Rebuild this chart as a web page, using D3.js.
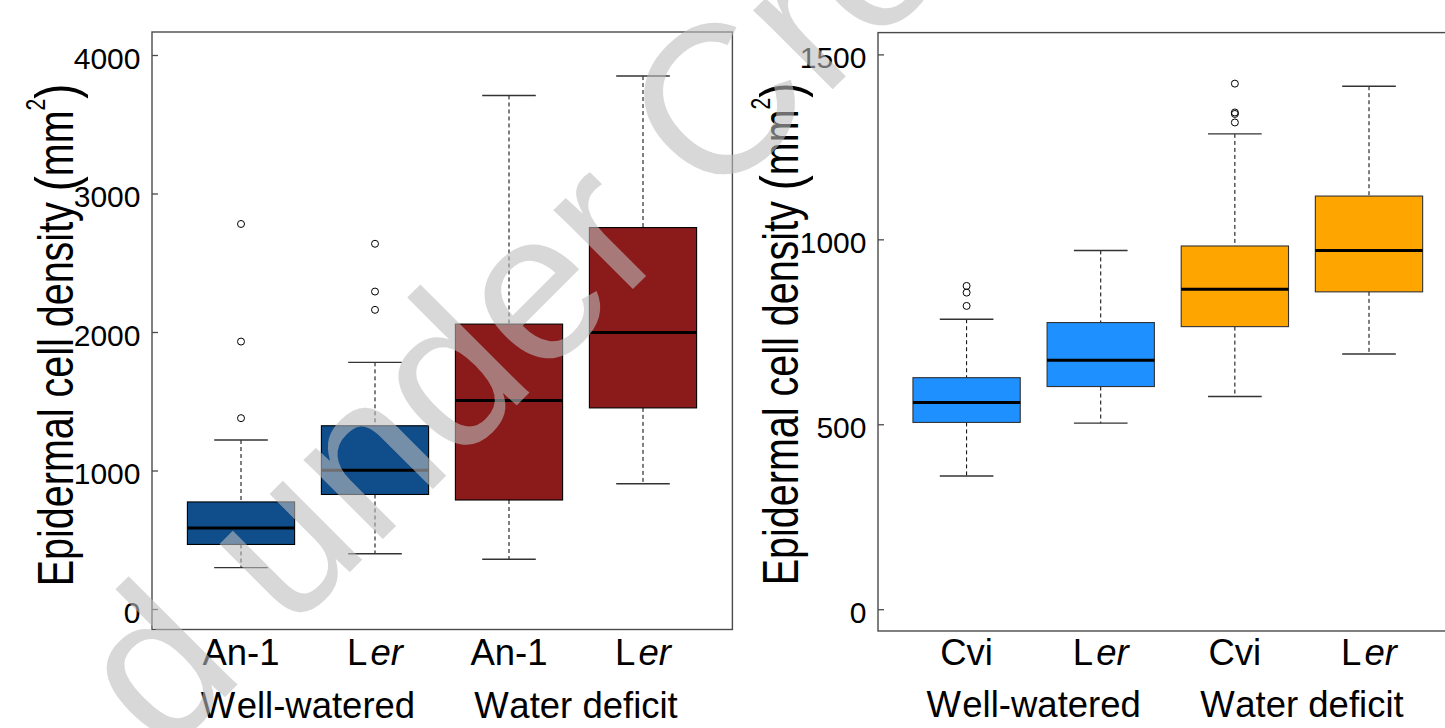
<!DOCTYPE html>
<html><head><meta charset="utf-8">
<script src="https://cdn.jsdelivr.net/npm/d3@7"></script>
<style>body{margin:0;background:#fff}svg{display:block}text{font-family:"Liberation Sans",Arial,sans-serif;fill:#000}</style>
</head><body><svg id="c" width="1445" height="728"></svg>
<script>
// ---------- data ----------
const leftCategories = ["An-1", "Ler", "An-1", "Ler"];
const rightCategories = ["Cvi", "Ler", "Cvi", "Ler"];
const groupLabels = ["Well-watered", "Water deficit"];
const leftTicks = [0, 1000, 2000, 3000, 4000];
const rightTicks = [0, 500, 1000, 1500];

const leftLow  = [299, 399, 359, 904];
const leftQ1   = [466, 827, 787, 1452];
const leftMed  = [585, 1001, 1506, 1997];
const leftQ3   = [773, 1323, 2057, 2754];
const leftHigh = [1220, 1781, 3708, 3848];
const leftOutliers = [[2780, 1931, 1378], [2637, 2292, 2160], [], []];
const leftColors = ["#104E8B", "#104E8B", "#8B1A1A", "#8B1A1A"];

const rightLow  = [360, 503, 575, 690];
const rightQ1   = [505, 602, 764, 858];
const rightMed  = [559, 673, 865, 970];
const rightQ3   = [626, 775, 982, 1117];
const rightHigh = [784, 970, 1285, 1414];
const rightOutliers = [[874, 856, 820], [], [1421, 1343, 1339, 1316], []];
const rightColors = ["#1E90FF", "#1E90FF", "#FFA500", "#FFA500"];

// ---------- drawing ----------
const svg = d3.select("#c");
const YLAB_SX = 1.28; // the y-axis title glyphs are drawn wider in the original

function panel(opt) {
  const g = svg.append("g");
  const idx = d3.range(opt.cats.length);
  const x = d3.scalePoint().domain(idx).range(opt.xRange);
  const y = d3.scaleLinear().domain(opt.yDomain).range(opt.yRange);
  const step = x.step();
  const bw = step * 0.4, cw = step * 0.2;

  // frame
  g.append("rect").attr("x", opt.frame[0]).attr("y", opt.frame[1])
    .attr("width", opt.frame[2] - opt.frame[0]).attr("height", opt.frame[3] - opt.frame[1])
    .attr("fill", "none").attr("stroke", "#4a4a4a").attr("stroke-width", 1.4);

  // y axis ticks (inward) + labels
  const axis = d3.axisLeft(y).tickValues(opt.ticks).tickSize(-6).tickPadding(0).tickFormat("");
  const ax = g.append("g").attr("transform", `translate(${opt.frame[0]},0)`).call(axis);
  ax.select(".domain").remove();
  ax.selectAll("line").attr("stroke", "#4a4a4a").attr("stroke-width", 1.3);
  g.selectAll(".tl").data(opt.ticks).enter().append("text")
    .attr("x", opt.frame[0] - 11.5).attr("y", d => y(d) + 13.5)
    .attr("text-anchor", "end").attr("font-size", 30).text(d => d);

  idx.forEach(i => {
    const cx = x(i);
    // dashed whiskers
    g.append("line").attr("x1", cx).attr("x2", cx).attr("y1", y(opt.high[i])).attr("y2", y(opt.q3[i]))
      .attr("stroke", "#000").attr("stroke-width", 1).attr("stroke-dasharray", "4,3");
    g.append("line").attr("x1", cx).attr("x2", cx).attr("y1", y(opt.q1[i])).attr("y2", y(opt.low[i]))
      .attr("stroke", "#000").attr("stroke-width", 1).attr("stroke-dasharray", "4,3");
    // staples
    [opt.high[i], opt.low[i]].forEach(v => {
      g.append("line").attr("x1", cx - cw).attr("x2", cx + cw).attr("y1", y(v)).attr("y2", y(v))
        .attr("stroke", "#333").attr("stroke-width", 1.4);
    });
    // box
    g.append("rect").attr("x", cx - bw).attr("width", 2 * bw)
      .attr("y", y(opt.q3[i])).attr("height", y(opt.q1[i]) - y(opt.q3[i]))
      .attr("fill", opt.colors[i]).attr("stroke", opt.boxStroke).attr("stroke-width", 1.1);
    // median
    g.append("line").attr("x1", cx - bw).attr("x2", cx + bw).attr("y1", y(opt.med[i])).attr("y2", y(opt.med[i]))
      .attr("stroke", "#000").attr("stroke-width", 3);
    // outliers
    g.selectAll(null).data(opt.outliers[i]).enter().append("circle")
      .attr("cx", cx).attr("cy", d => y(d)).attr("r", 3.5)
      .attr("fill", "none").attr("stroke", "#000").attr("stroke-width", 1);
  });

  // category labels
  idx.forEach(i => {
    const t = g.append("text").attr("x", x(i)).attr("y", opt.catY)
      .attr("text-anchor", "middle").attr("font-size", 36.5);
    const c = opt.cats[i];
    if (c === "Ler") {
      t.append("tspan").text("L");
      t.append("tspan").attr("dx", 3).attr("font-style", "italic").text("er");
    } else t.text(c);
  });
  // group labels
  groupLabels.forEach((lab, k) => {
    const cx = (x(2 * k) + x(2 * k + 1)) / 2;
    const t = g.append("text").attr("x", cx).attr("y", opt.groupY)
      .attr("text-anchor", "middle").attr("font-size", 36.5);
    t.append("tspan").text(lab[0]);
    t.append("tspan").attr("dx", 2).text(lab.slice(1));
  });

  // y-axis title
  const yl = g.append("text")
    .attr("transform", `translate(${opt.ylabX},${opt.ylabY}) scale(${YLAB_SX},1) rotate(-90)`)
    .attr("text-anchor", "middle").attr("font-size", 39.5);
  yl.append("tspan").text("Epidermal cell density ");
  yl.append("tspan").attr("font-size", 45).attr("dy", 2).text("(");
  yl.append("tspan").attr("dy", -2).text("mm");
  yl.append("tspan").attr("font-size", 21).attr("dy", -22).text("2");
  yl.append("tspan").attr("font-size", 45).attr("dy", 24).text(")");
}

panel({
  cats: leftCategories, xRange: [241, 643], yDomain: [0, 4000], yRange: [609, 55],
  frame: [152, 32, 732.4, 629.5], ticks: leftTicks,
  low: leftLow, q1: leftQ1, med: leftMed, q3: leftQ3, high: leftHigh, outliers: leftOutliers,
  colors: leftColors, boxStroke: "#000", catY: 665, groupY: 718, ylabX: 73, ylabY: 335
});
panel({
  cats: rightCategories, xRange: [966.6, 1369], yDomain: [0, 1500], yRange: [609.2, 54.4],
  frame: [878, 32.6, 1460, 631], ticks: rightTicks,
  low: rightLow, q1: rightQ1, med: rightMed, q3: rightQ3, high: rightHigh, outliers: rightOutliers,
  colors: rightColors, boxStroke: "#333", catY: 665, groupY: 717, ylabX: 798, ylabY: 334
});

// watermark overlay
svg.append("text").attr("transform", "translate(164,758) rotate(-45)")
  .attr("font-size", 212).style("fill", "rgb(188,188,188)").attr("fill-opacity", 0.59)
  .text("d under Cre");
</script></body></html>
